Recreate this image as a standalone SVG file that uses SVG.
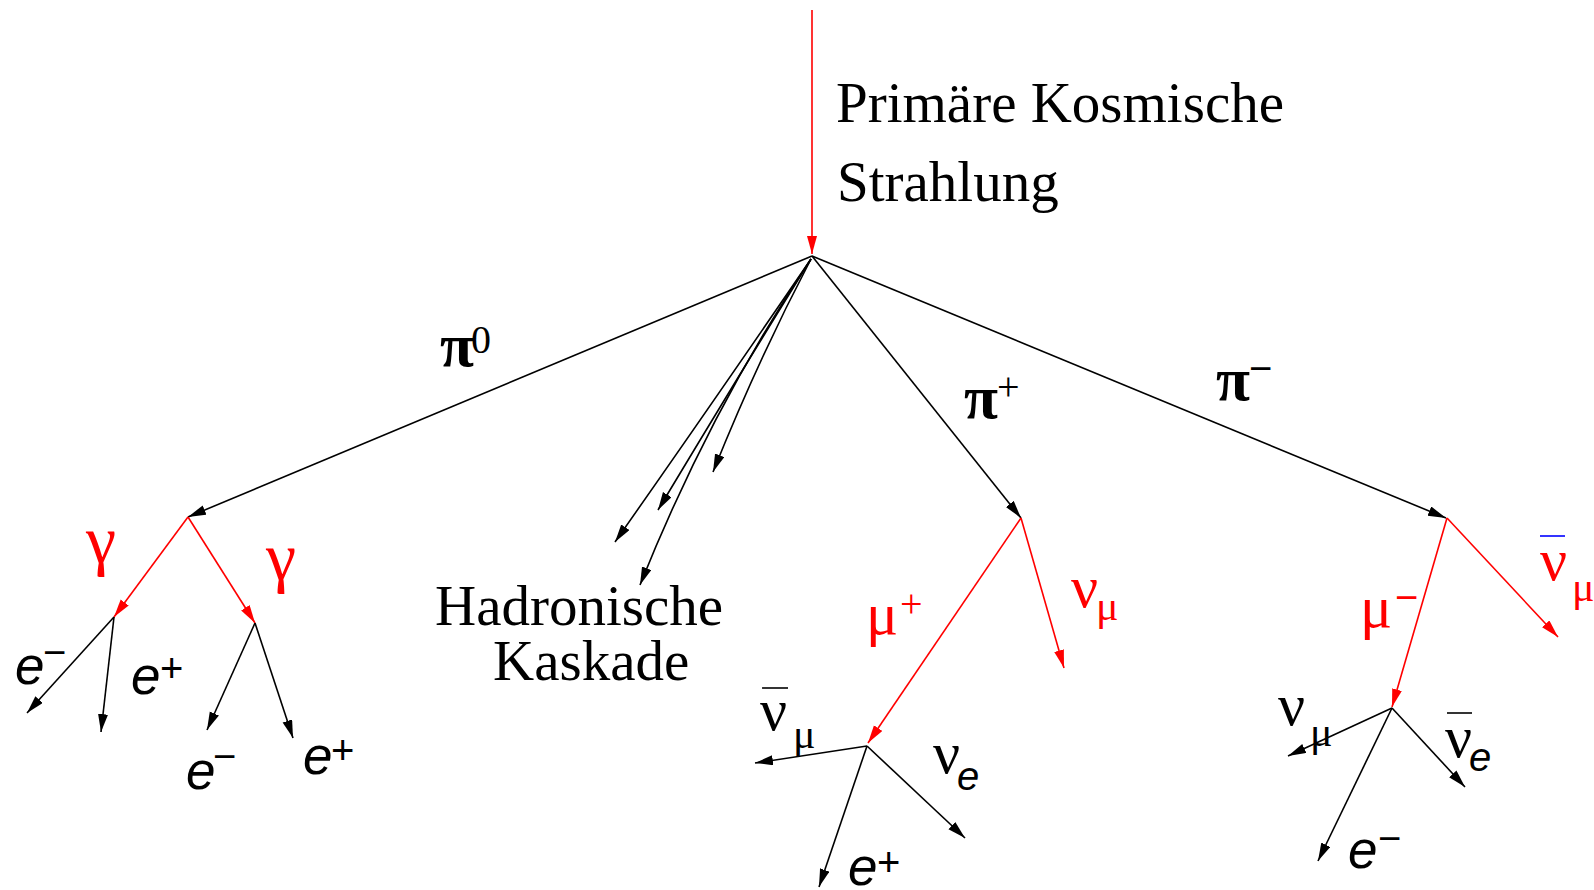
<svg xmlns="http://www.w3.org/2000/svg" width="1594" height="890" viewBox="0 0 1594 890">
<style>
.ln{stroke:#000;stroke-width:1.6;fill:none}
.rd{stroke:#f00;stroke-width:1.6;fill:none}
.ar{marker-end:url(#ab)}
.arr{marker-end:url(#ar)}
.t{font-family:"Liberation Serif",serif;font-size:57px;fill:#000}
.g{font-family:"Liberation Serif",serif;font-size:60px;fill:#000}
.pi{font-family:"Liberation Serif",serif;font-size:62px;font-weight:bold;fill:#000}
.gam{font-family:"Liberation Serif",serif;font-size:68px;fill:#f00}
.gs{font-family:"Liberation Serif",serif;font-size:40px;fill:#000}
.sub{font-family:"Liberation Serif",serif;font-size:42px;fill:#000}
.e{font-family:"Liberation Sans",sans-serif;font-style:italic;font-size:53px;fill:#000}
.es{font-family:"Liberation Sans",sans-serif;font-style:italic;font-size:40px;fill:#000}
.sup{font-family:"Liberation Sans",sans-serif;font-size:40px;fill:#000}
.red{fill:#f00}
.bar{stroke:#000;stroke-width:1.6}
</style>
<defs>
<marker id="ab" markerUnits="userSpaceOnUse" markerWidth="20" markerHeight="12" refX="18" refY="5" orient="auto"><path d="M0,0 L18,5 L0,10 z" fill="#000"/></marker>
<marker id="ar" markerUnits="userSpaceOnUse" markerWidth="20" markerHeight="12" refX="18" refY="5" orient="auto"><path d="M0,0 L18,5 L0,10 z" fill="#f00"/></marker>
</defs>
<rect width="1594" height="890" fill="#fff"/>
<g id="connectors">
<line class="rd arr" x1="812" y1="10" x2="812" y2="254"/>
<line class="ln ar" x1="812" y1="256" x2="188" y2="517"/>
<line class="ln ar" x1="812" y1="256" x2="1021" y2="518"/>
<line class="ln ar" x1="812" y1="256" x2="1446" y2="518"/>
<path class="ln ar" d="M811,259 Q725,385 615,542"/>
<path class="ln ar" d="M811,259 Q742,370 658,510"/>
<path class="ln ar" d="M811,259 Q710,410 640,585"/>
<path class="ln ar" d="M811,259 Q758,360 713,472"/>
<line class="rd arr" x1="188" y1="517" x2="114" y2="617"/>
<line class="rd arr" x1="188" y1="517" x2="255" y2="623"/>
<line class="ln ar" x1="114" y1="617" x2="27" y2="713"/>
<line class="ln ar" x1="114" y1="617" x2="101" y2="732"/>
<line class="ln ar" x1="255" y1="623" x2="207" y2="730"/>
<line class="ln ar" x1="255" y1="623" x2="293" y2="738"/>
<line class="rd arr" x1="1021" y1="518" x2="868" y2="743"/>
<line class="rd arr" x1="1021" y1="518" x2="1064" y2="668"/>
<line class="ln ar" x1="867" y1="746" x2="755" y2="763"/>
<line class="ln ar" x1="867" y1="746" x2="965" y2="838"/>
<line class="ln ar" x1="867" y1="746" x2="819" y2="887"/>
<line class="rd arr" x1="1447" y1="518" x2="1392" y2="707"/>
<line class="rd arr" x1="1447" y1="518" x2="1558" y2="637"/>
<line class="ln ar" x1="1392" y1="708" x2="1288" y2="756"/>
<line class="ln ar" x1="1392" y1="708" x2="1465" y2="787"/>
<line class="ln ar" x1="1392" y1="708" x2="1318" y2="861"/>
</g>
<g id="primary"><text class="t" x="836" y="122">Primäre Kosmische</text><text class="t" x="837" y="201">Strahlung</text></g>
<g id="hadron"><text class="t" x="435" y="625">Hadronische</text><text class="t" x="493" y="680">Kaskade</text></g>
<g id="pi0"><text class="pi" x="440" y="366">π</text><text class="gs" x="471" y="353">0</text></g>
<g id="piplus"><text class="pi" x="964" y="418">π</text><text class="gs" x="997" y="400">+</text></g>
<g id="piminus"><text class="pi" x="1216" y="400">π</text><text class="sup" x="1249" y="382">−</text></g>
<g id="gamma1"><text class="gam" x="86" y="563">γ</text></g>
<g id="gamma2"><text class="gam" x="266" y="580">γ</text></g>
<g id="e1"><text class="e" x="15" y="684">e</text><text class="sup" x="43" y="666">−</text></g>
<g id="e2"><text class="e" x="131" y="694">e</text><text class="sup" x="160" y="682">+</text></g>
<g id="e3"><text class="e" x="186" y="789">e</text><text class="sup" x="213" y="770">−</text></g>
<g id="e4"><text class="e" x="303" y="774">e</text><text class="sup" x="331" y="764">+</text></g>
<g id="muplus"><text class="g red" x="866" y="634">μ</text><text class="gs red" x="900" y="617">+</text></g>
<g id="numu1"><text class="g red" x="1071" y="607">ν</text><text class="sub red" x="1096" y="620">μ</text></g>
<g id="numubar1"><line class="bar" x1="762" y1="688" x2="788" y2="688"/><text class="g" x="760" y="730">ν</text><text class="sub" x="793" y="748">μ</text></g>
<g id="nue1"><text class="g" x="933" y="773">ν</text><text class="es" x="957" y="790">e</text></g>
<g id="e5"><text class="e" x="848" y="885">e</text><text class="sup" x="877" y="876">+</text></g>
<g id="muminus"><text class="g red" x="1360" y="627">μ</text><text class="sup red" x="1395" y="611">−</text></g>
<g id="numubar2"><line stroke="#00f" stroke-width="1.6" x1="1540" y1="536" x2="1565" y2="536"/><text class="g red" x="1540" y="580">ν</text><text class="sub red" x="1572" y="601">μ</text></g>
<g id="numu2"><text class="g" x="1278" y="725">ν</text><text class="sub" x="1310" y="746">μ</text></g>
<g id="nuebar2"><line class="bar" x1="1447" y1="713" x2="1472" y2="713"/><text class="g" x="1445" y="757">ν</text><text class="es" x="1469" y="771">e</text></g>
<g id="e6"><text class="e" x="1348" y="868">e</text><text class="sup" x="1378" y="852">−</text></g>
</svg>
